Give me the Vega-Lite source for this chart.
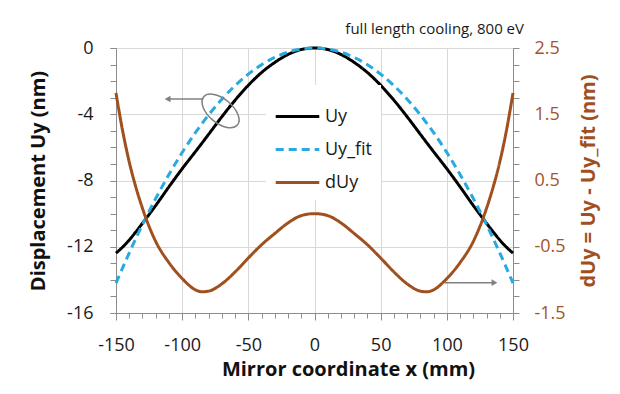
{
  "$schema": "https://vega.github.io/schema/vega-lite/v6.json",
  "width": 397,
  "height": 265,
  "autosize": "none",
  "padding": {"left": 116, "top": 48, "right": 107, "bottom": 81},
  "background": "white",
  "config": {"view": {"stroke": null}, "font": "Open Sans"},
  "title": {"text": "full length cooling, 800 eV", "anchor": "end", "frame": "group", "fontSize": 15, "fontWeight": "normal", "color": "#1a1a1a", "offset": 2, "dx": 11},
  "datasets": {
    "curves": [
      {"x": -150, "s": "Uy", "v": -12.38}, {"x": -150, "s": "Uy_fit", "v": -14.2}, {"x": -150, "s": "dUy", "v": 1.82},
      {"x": -145, "s": "Uy", "v": -12.02}, {"x": -145, "s": "Uy_fit", "v": -13.27}, {"x": -145, "s": "dUy", "v": 1.25},
      {"x": -140, "s": "Uy", "v": -11.59}, {"x": -140, "s": "Uy_fit", "v": -12.37}, {"x": -140, "s": "dUy", "v": 0.78},
      {"x": -135, "s": "Uy", "v": -11.1}, {"x": -135, "s": "Uy_fit", "v": -11.5}, {"x": -135, "s": "dUy", "v": 0.4},
      {"x": -130, "s": "Uy", "v": -10.58}, {"x": -130, "s": "Uy_fit", "v": -10.66}, {"x": -130, "s": "dUy", "v": 0.08},
      {"x": -120, "s": "Uy", "v": -9.51}, {"x": -120, "s": "Uy_fit", "v": -9.09}, {"x": -120, "s": "dUy", "v": -0.42},
      {"x": -110, "s": "Uy", "v": -8.38}, {"x": -110, "s": "Uy_fit", "v": -7.64}, {"x": -110, "s": "dUy", "v": -0.74},
      {"x": -100, "s": "Uy", "v": -7.29}, {"x": -100, "s": "Uy_fit", "v": -6.31}, {"x": -100, "s": "dUy", "v": -0.98},
      {"x": -90, "s": "Uy", "v": -6.26}, {"x": -90, "s": "Uy_fit", "v": -5.11}, {"x": -90, "s": "dUy", "v": -1.15},
      {"x": -85, "s": "Uy", "v": -5.74}, {"x": -85, "s": "Uy_fit", "v": -4.56}, {"x": -85, "s": "dUy", "v": -1.18},
      {"x": -80, "s": "Uy", "v": -5.21}, {"x": -80, "s": "Uy_fit", "v": -4.04}, {"x": -80, "s": "dUy", "v": -1.17},
      {"x": -70, "s": "Uy", "v": -4.15}, {"x": -70, "s": "Uy_fit", "v": -3.09}, {"x": -70, "s": "dUy", "v": -1.06},
      {"x": -60, "s": "Uy", "v": -3.15}, {"x": -60, "s": "Uy_fit", "v": -2.27}, {"x": -60, "s": "dUy", "v": -0.88},
      {"x": -50, "s": "Uy", "v": -2.25}, {"x": -50, "s": "Uy_fit", "v": -1.58}, {"x": -50, "s": "dUy", "v": -0.67},
      {"x": -40, "s": "Uy", "v": -1.48}, {"x": -40, "s": "Uy_fit", "v": -1.01}, {"x": -40, "s": "dUy", "v": -0.47},
      {"x": -30, "s": "Uy", "v": -0.87}, {"x": -30, "s": "Uy_fit", "v": -0.57}, {"x": -30, "s": "dUy", "v": -0.3},
      {"x": -20, "s": "Uy", "v": -0.39}, {"x": -20, "s": "Uy_fit", "v": -0.25}, {"x": -20, "s": "dUy", "v": -0.14},
      {"x": -10, "s": "Uy", "v": -0.09}, {"x": -10, "s": "Uy_fit", "v": -0.06}, {"x": -10, "s": "dUy", "v": -0.03},
      {"x": 0, "s": "Uy", "v": 0}, {"x": 0, "s": "Uy_fit", "v": 0}, {"x": 0, "s": "dUy", "v": 0},
      {"x": 10, "s": "Uy", "v": -0.09}, {"x": 10, "s": "Uy_fit", "v": -0.06}, {"x": 10, "s": "dUy", "v": -0.03},
      {"x": 20, "s": "Uy", "v": -0.39}, {"x": 20, "s": "Uy_fit", "v": -0.25}, {"x": 20, "s": "dUy", "v": -0.14},
      {"x": 30, "s": "Uy", "v": -0.87}, {"x": 30, "s": "Uy_fit", "v": -0.57}, {"x": 30, "s": "dUy", "v": -0.3},
      {"x": 40, "s": "Uy", "v": -1.48}, {"x": 40, "s": "Uy_fit", "v": -1.01}, {"x": 40, "s": "dUy", "v": -0.47},
      {"x": 50, "s": "Uy", "v": -2.25}, {"x": 50, "s": "Uy_fit", "v": -1.58}, {"x": 50, "s": "dUy", "v": -0.67},
      {"x": 60, "s": "Uy", "v": -3.15}, {"x": 60, "s": "Uy_fit", "v": -2.27}, {"x": 60, "s": "dUy", "v": -0.88},
      {"x": 70, "s": "Uy", "v": -4.15}, {"x": 70, "s": "Uy_fit", "v": -3.09}, {"x": 70, "s": "dUy", "v": -1.06},
      {"x": 80, "s": "Uy", "v": -5.21}, {"x": 80, "s": "Uy_fit", "v": -4.04}, {"x": 80, "s": "dUy", "v": -1.17},
      {"x": 85, "s": "Uy", "v": -5.74}, {"x": 85, "s": "Uy_fit", "v": -4.56}, {"x": 85, "s": "dUy", "v": -1.18},
      {"x": 90, "s": "Uy", "v": -6.26}, {"x": 90, "s": "Uy_fit", "v": -5.11}, {"x": 90, "s": "dUy", "v": -1.15},
      {"x": 100, "s": "Uy", "v": -7.29}, {"x": 100, "s": "Uy_fit", "v": -6.31}, {"x": 100, "s": "dUy", "v": -0.98},
      {"x": 110, "s": "Uy", "v": -8.38}, {"x": 110, "s": "Uy_fit", "v": -7.64}, {"x": 110, "s": "dUy", "v": -0.74},
      {"x": 120, "s": "Uy", "v": -9.51}, {"x": 120, "s": "Uy_fit", "v": -9.09}, {"x": 120, "s": "dUy", "v": -0.42},
      {"x": 130, "s": "Uy", "v": -10.58}, {"x": 130, "s": "Uy_fit", "v": -10.66}, {"x": 130, "s": "dUy", "v": 0.08},
      {"x": 135, "s": "Uy", "v": -11.1}, {"x": 135, "s": "Uy_fit", "v": -11.5}, {"x": 135, "s": "dUy", "v": 0.4},
      {"x": 140, "s": "Uy", "v": -11.59}, {"x": 140, "s": "Uy_fit", "v": -12.37}, {"x": 140, "s": "dUy", "v": 0.78},
      {"x": 145, "s": "Uy", "v": -12.02}, {"x": 145, "s": "Uy_fit", "v": -13.27}, {"x": 145, "s": "dUy", "v": 1.25},
      {"x": 150, "s": "Uy", "v": -12.38}, {"x": 150, "s": "Uy_fit", "v": -14.2}, {"x": 150, "s": "dUy", "v": 1.82}
    ]
  },
  "layer": [
    {
      "resolve": {"axis": {"x": "independent", "y": "independent"}},
      "layer": [
        {
          "data": {"values": [{"x": -112, "x2": -84, "y": -3.08}, {"x": 98.6, "x2": 136.4, "y": -14.17}]},
          "mark": {"type": "rule", "color": "#808080", "strokeWidth": 1.5},
          "encoding": {
            "x": {
              "field": "x", "type": "quantitative",
              "scale": {"domain": [-150, 150], "nice": false, "zero": false},
              "axis": {
                "orient": "bottom",
                "values": [-150, -140, -130, -120, -110, -100, -90, -80, -70, -60, -50, -40, -30, -20, -10, 0, 10, 20, 30, 40, 50, 60, 70, 80, 90, 100, 110, 120, 130, 140, 150],
                "labels": false, "grid": false, "domain": false, "title": null,
                "tickSize": 5, "tickColor": "#8C8C8C"
              }
            },
            "x2": {"field": "x2"},
            "y": {
              "field": "y", "type": "quantitative",
              "scale": {"domain": [-16, 0], "nice": false, "zero": false},
              "axis": {
                "orient": "left",
                "values": [-16, -15, -14, -13, -12, -11, -10, -9, -8, -7, -6, -5, -4, -3, -2, -1, 0],
                "labels": false, "grid": false, "domain": false, "title": null,
                "tickSize": 6, "tickColor": "#8C8C8C"
              }
            }
          }
        },
        {
          "data": {"name": "curves"},
          "transform": [{"filter": "datum.s !== 'dUy'"}],
          "mark": {"type": "line", "strokeWidth": 3, "interpolate": "monotone"},
          "encoding": {
            "x": {
              "field": "x", "type": "quantitative",
              "scale": {"domain": [-150, 150], "nice": false, "zero": false},
              "axis": {
                "orient": "bottom",
                "values": [-150, -100, -50, 0, 50, 100, 150],
                "labelExpr": "'' + datum.value",
                "labelOverlap": false,
                "labelFlush": false,
                "grid": true,
                "gridColor": "#D9D9D9",
                "tickSize": 7,
                "tickColor": "#8C8C8C",
                "domainColor": "#8C8C8C",
                "labelFontSize": 18,
                "labelColor": "#1a1a1a",
                "labelPadding": 16,
                "title": "Mirror coordinate x (mm)",
                "titleFontSize": 20,
                "titleFontWeight": "bold",
                "titleColor": "#111111",
                "titlePadding": 5,
                "titleX": 232
              }
            },
            "y": {
              "field": "v", "type": "quantitative",
              "scale": {"domain": [-16, 0], "nice": false, "zero": false},
              "axis": {
                "orient": "left",
                "values": [-16, -12, -8, -4, 0],
                "labelExpr": "'' + datum.value",
                "labelOverlap": false,
                "labelFlush": false,
                "grid": true,
                "gridColor": "#D9D9D9",
                "tickSize": 6,
                "tickColor": "#8C8C8C",
                "domainColor": "#8C8C8C",
                "labelFontSize": 18,
                "labelColor": "#1a1a1a",
                "labelPadding": 17,
                "title": "Displacement Uy (nm)",
                "titleFontSize": 20,
                "titleFontWeight": "bold",
                "titleColor": "#111111",
                "titlePadding": 18
              }
            },
            "color": {
              "field": "s", "type": "nominal",
              "scale": {"domain": ["Uy", "Uy_fit", "dUy"], "range": ["#000000", "#27A9E1", "#A0501E"]},
              "legend": {
                "orient": "none", "legendX": 150, "legendY": 37, "title": null,
                "symbolType": "stroke", "symbolSize": 1900, "symbolStrokeWidth": 3,
                "labelFontSize": 18, "labelColor": "#1a1a1a", "labelOffset": 4,
                "fillColor": "white", "padding": 8, "rowPadding": -15
              }
            },
            "strokeDash": {
              "field": "s", "type": "nominal",
              "scale": {"domain": ["Uy", "Uy_fit", "dUy"], "range": [[1, 0], [8, 5], [1, 0]]}
            }
          }
        },
        {
          "data": {"values": [{"x": -111, "y": -3.08}]},
          "mark": {"type": "point", "shape": "triangle-left", "filled": true, "color": "#808080", "size": 45, "opacity": 1},
          "encoding": {
            "x": {"field": "x", "type": "quantitative", "axis": null},
            "y": {"field": "y", "type": "quantitative", "axis": null}
          }
        },
        {
          "data": {"values": [{"x": 136, "y": -14.17}]},
          "mark": {"type": "point", "shape": "triangle-right", "filled": true, "color": "#808080", "size": 45, "opacity": 1},
          "encoding": {
            "x": {"field": "x", "type": "quantitative", "axis": null},
            "y": {"field": "y", "type": "quantitative", "axis": null}
          }
        },
        {
          "data": {"values": [{"x": -71, "y": -3.8}]},
          "mark": {"type": "point", "shape": "M -0.766 -0.643 A 1 0.545 40 1 1 0.766 0.643 A 1 0.545 40 1 1 -0.766 -0.643 Z", "filled": false, "color": "#808080", "strokeWidth": 1.5, "size": 1936, "opacity": 1},
          "encoding": {
            "x": {"field": "x", "type": "quantitative", "axis": null},
            "y": {"field": "y", "type": "quantitative", "axis": null}
          }
        }
      ]
    },
    {
      "data": {"name": "curves"},
      "transform": [{"filter": "datum.s === 'dUy'"}],
      "mark": {"type": "line", "strokeWidth": 3, "interpolate": "monotone"},
      "encoding": {
        "x": {"field": "x", "type": "quantitative", "axis": null},
        "y": {
          "field": "v", "type": "quantitative",
          "scale": {"domain": [-1.5, 2.5], "nice": false, "zero": false},
          "axis": {
            "orient": "right",
            "values": [-1.5, -1.25, -1, -0.75, -0.5, -0.25, 0, 0.25, 0.5, 0.75, 1, 1.25, 1.5, 1.75, 2, 2.25, 2.5],
            "labelExpr": "(datum.value - 0.5) % 1 === 0 ? '' + datum.value : ''",
            "labelOverlap": false,
            "labelFlush": false,
            "grid": false,
            "tickSize": 6,
            "tickColor": "#8C8C8C",
            "domainColor": "#8C8C8C",
            "labelFontSize": 18,
            "labelColor": "#A5532A",
            "labelPadding": 15,
            "title": "dUy = Uy - Uy_fit  (nm)",
            "titleFontSize": 20,
            "titleFontWeight": "bold",
            "titleColor": "#A0501E",
            "titleAngle": 270,
            "titlePadding": 33
          }
        },
        "color": {"field": "s", "type": "nominal", "scale": {"domain": ["Uy", "Uy_fit", "dUy"], "range": ["#000000", "#27A9E1", "#A0501E"]}},
        "strokeDash": {"field": "s", "type": "nominal", "scale": {"domain": ["Uy", "Uy_fit", "dUy"], "range": [[1, 0], [8, 5], [1, 0]]}}
      }
    }
  ],
  "resolve": {"scale": {"y": "independent"}, "axis": {"x": "independent"}}
}
